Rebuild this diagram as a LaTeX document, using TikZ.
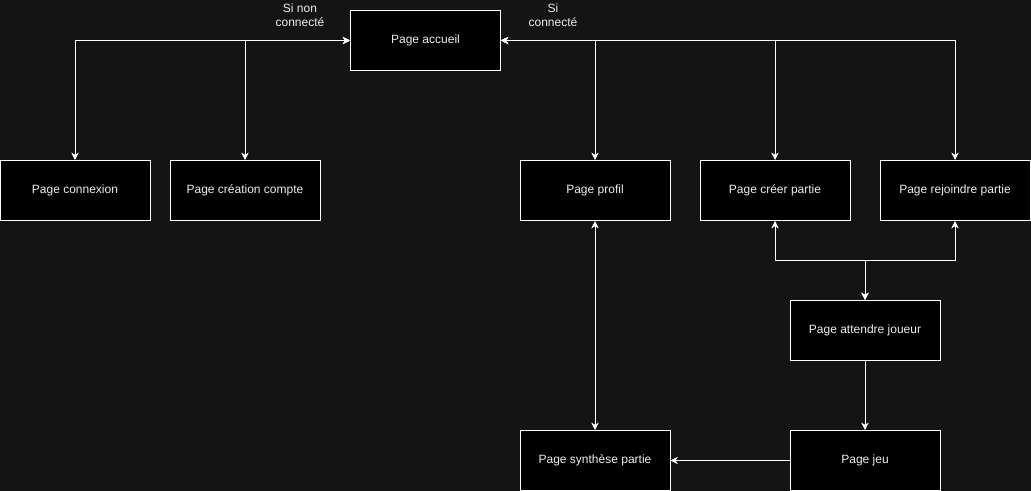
\documentclass[tikz,border=0pt]{standalone}
\usepackage{fontspec}
\setmainfont{Liberation Sans}
\usepackage{tikz}
\usetikzlibrary{arrows.meta,positioning,calc}

\definecolor{fondsombre}{HTML}{141414}
\definecolor{textegris}{HTML}{EDEDED}

\tikzset{
  page/.style={draw=white, fill=black, line width=0.75pt, minimum width=112.5pt, minimum height=45pt,
    text=textegris, font=\fontsize{9}{10.5}\selectfont, inner sep=0pt},
  lien/.style={draw=white, line width=0.75pt},
  etiquette/.style={text=textegris, font=\fontsize{9}{10.5}\selectfont, align=center, inner sep=0pt},
  >={Stealth[length=5.5pt, width=5.5pt, inset=1.6pt]}
}

\begin{document}
\begin{tikzpicture}[x=0.75pt, y=-0.75pt]
  \fill[fondsombre] (0,0) rectangle (1031,491);
  \useasboundingbox (0,0) rectangle (1031,491);

  \node[page] (accueil) at (425.5,40.5) {Page accueil};
  \node[page] (connexion) at (75,190.5) {Page connexion};
  \node[page] (creation) at (245,190.5) {Page création compte};
  \node[page] (profil) at (595,190.5) {Page profil};
  \node[page] (creer) at (775,190.5) {Page créer partie};
  \node[page] (rejoindre) at (955,190.5) {Page rejoindre partie};
  \node[page] (attendre) at (865,330.5) {Page attendre joueur};
  \node[page] (synthese) at (595,460.5) {Page synthèse partie};
  \node[page] (jeu) at (865,460.5) {Page jeu};

  \node[etiquette] (nonco) at (300,15.5) {Si non\\connecté};
  \node[etiquette] (co) at (553,15.5) {Si\\connecté};

  \coordinate (fourche) at (865,260.5);

  \draw[lien, <->] (accueil) -| (connexion);
  \draw[lien, <->] (accueil) -| (creation);
  \draw[lien, <->] (accueil) -| (profil);
  \draw[lien, <->] (accueil) -| (creer);
  \draw[lien, <->] (accueil) -| (rejoindre);
  \draw[lien, <->] (profil) -- (synthese);
  \draw[lien, <->] (attendre) -- (fourche) -| (creer);
  \draw[lien, <->] (attendre) -- (fourche) -| (rejoindre);
  \draw[lien, ->] (attendre) -- (jeu);
  \draw[lien, ->] (jeu) -- (synthese);
\end{tikzpicture}
\end{document}
